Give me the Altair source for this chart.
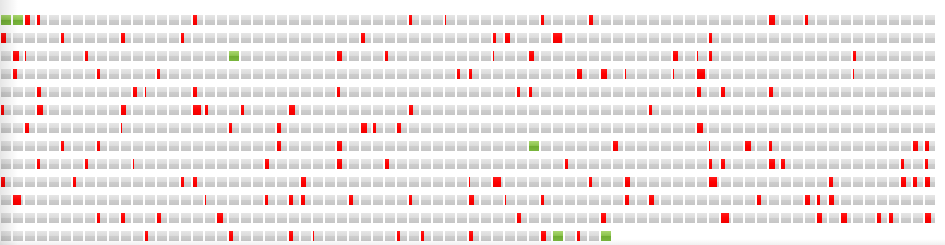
import altair as alt
import pandas as pd

# ---- data -------------------------------------------------------------
# number of cells in each of the 13 rows
CELLS_PER_ROW = [78] * 12 + [51]

# green (fully OK) cells: (row, column)
GREEN_CELLS = [(0, 0), (0, 1), (2, 19), (7, 44), (12, 46), (12, 50)]

# red marks per row: (column, share of the cell in tenths)
ROW01 = [(2, 5), (3, 3), (16, 4), (34, 3), (37, 1), (45, 3), (49, 4), (64, 6), (67, 3)]
ROW02 = [(0, 5), (5, 3), (10, 4), (15, 3), (30, 4), (41, 3), (42, 5), (46, 9), (59, 3)]
ROW03 = [(1, 6), (2, 1), (7, 3), (28, 5), (32, 3), (41, 1), (44, 5), (56, 5), (58, 1), (59, 3), (71, 3)]
ROW04 = [(1, 4), (8, 3), (13, 3), (38, 3), (39, 3), (48, 5), (50, 6), (52, 1), (56, 1), (58, 8), (71, 1)]
ROW05 = [(3, 4), (11, 4), (12, 1), (16, 4), (28, 3), (43, 3), (44, 3), (58, 4), (60, 4), (64, 4)]
ROW06 = [(0, 3), (3, 6), (10, 5), (16, 8), (17, 3), (20, 3), (24, 6), (34, 4), (54, 3)]
ROW07 = [(2, 4), (10, 1), (19, 3), (23, 4), (30, 6), (31, 3), (33, 4), (58, 6)]
ROW08 = [(5, 3), (8, 3), (23, 4), (28, 5), (51, 5), (59, 1), (62, 6), (64, 3), (76, 5), (77, 4)]
ROW09 = [(3, 3), (7, 3), (11, 1), (22, 4), (28, 5), (32, 4), (47, 3), (59, 3), (60, 4), (64, 6),
         (65, 4), (75, 3), (77, 3)]
ROW10 = [(0, 4), (6, 3), (15, 3), (16, 4), (25, 5), (39, 1), (41, 8), (49, 3), (52, 5), (59, 8),
         (69, 4), (75, 5), (76, 4), (77, 5)]
ROW11 = [(1, 8), (17, 1), (22, 3), (24, 4), (25, 4), (29, 4), (34, 3), (39, 5), (42, 1), (45, 3),
         (52, 4), (54, 5), (63, 4), (67, 5), (68, 3), (69, 5)]
ROW12 = [(8, 3), (10, 4), (13, 4), (18, 6), (43, 4), (50, 5), (60, 8), (68, 5), (70, 6), (73, 4),
         (74, 4), (77, 6)]
ROW13 = [(12, 3), (19, 4), (24, 4), (26, 1), (33, 3), (35, 3), (39, 4), (45, 5), (48, 3)]

RED_ROWS = [ROW01, ROW02, ROW03, ROW04, ROW05, ROW06, ROW07, ROW08, ROW09, ROW10, ROW11, ROW12, ROW13]

# ---- tables -------------------------------------------------------------
green_set = set(GREEN_CELLS)
cells = pd.DataFrame(
    [{"row": r, "col": c} for r, n in enumerate(CELLS_PER_ROW) for c in range(n) if (r, c) not in green_set]
)
greens = pd.DataFrame([{"row": r, "col": c} for r, c in GREEN_CELLS])
reds = pd.DataFrame(
    [{"row": r, "col": c, "share": s / 10} for r, marks in enumerate(RED_ROWS) for c, s in marks]
)

# ---- layout (scale geometry) ---------------------------------------------
W, H = 945, 245
PITCH_X, PITCH_Y = 12, 18
CELL_W, CELL_H = 10 / 12, 10 / 18  # in column / row units
x_scale = alt.Scale(domain=[-1 / PITCH_X, W / PITCH_X - 1 / PITCH_X], nice=False, zero=False)
y_scale = alt.Scale(domain=[-15 / PITCH_Y, H / PITCH_Y - 15 / PITCH_Y], nice=False, zero=False, reverse=True)


def grad(stops, horizontal=False):
    return {"gradient": "linear", "x1": 0, "y1": 0,
            "x2": 1 if horizontal else 0, "y2": 0 if horizontal else 1,
            "stops": [{"offset": o, "color": c} for o, c in stops]}


GREY = grad([(0, "#e6e6e6"), (0.45, "#dcdcdc"), (0.5, "#cdcdcd"), (1, "#c6c6c6")])
GREEN = grad([(0, "#a9d66f"), (0.45, "#8cc34e"), (0.5, "#6fab32"), (1, "#7ab63e")])
RED = grad([(0, "#ff1a1a"), (0.5, "#ff0000"), (1, "#f00000")])
SHADE_LEFT = grad([(0, "rgba(0,0,0,0.10)"), (1, "rgba(0,0,0,0)")], horizontal=True)
SHADE_BOTTOM = grad([(0, "rgba(0,0,0,0)"), (1, "rgba(0,0,0,0.06)")])


def base(df):
    return alt.Chart(df).transform_calculate(top="datum.row + %f" % CELL_H)


x_enc = alt.X("col:Q", scale=x_scale, axis=None)
y_enc = alt.Y("row:Q", scale=y_scale, axis=None)

grey_layer = base(cells).transform_calculate(right="datum.col + %f" % CELL_W).mark_rect(fill=GREY).encode(
    x=x_enc, x2="right:Q", y=y_enc, y2="top:Q"
)
green_layer = base(greens).transform_calculate(right="datum.col + %f" % CELL_W).mark_rect(fill=GREEN).encode(
    x=x_enc, x2="right:Q", y=y_enc, y2="top:Q"
)
red_layer = base(reds).transform_calculate(right="datum.col + datum.share * %f" % CELL_W).mark_rect(fill=RED).encode(
    x=x_enc, x2="right:Q", y=y_enc, y2="top:Q"
)

# soft inner shadow of the panel along its left and bottom edges
left_shade = alt.Chart(pd.DataFrame({"k": [0]})).mark_rect(fill=SHADE_LEFT).encode(
    x=alt.value(0), x2=alt.value(18), y=alt.value(0), y2=alt.value(H)
)
bottom_shade = alt.Chart(pd.DataFrame({"k": [0]})).mark_rect(fill=SHADE_BOTTOM).encode(
    x=alt.value(0), x2=alt.value(W), y=alt.value(H - 6), y2=alt.value(H)
)

chart = (
    alt.layer(grey_layer, green_layer, red_layer, left_shade, bottom_shade)
    .properties(width=W, height=H, padding=0, autosize=alt.AutoSizeParams(type="none"), background="white")
    .configure_view(stroke=None)
)

chart.save("out.html", embed_options={"renderer": "svg", "actions": False})
